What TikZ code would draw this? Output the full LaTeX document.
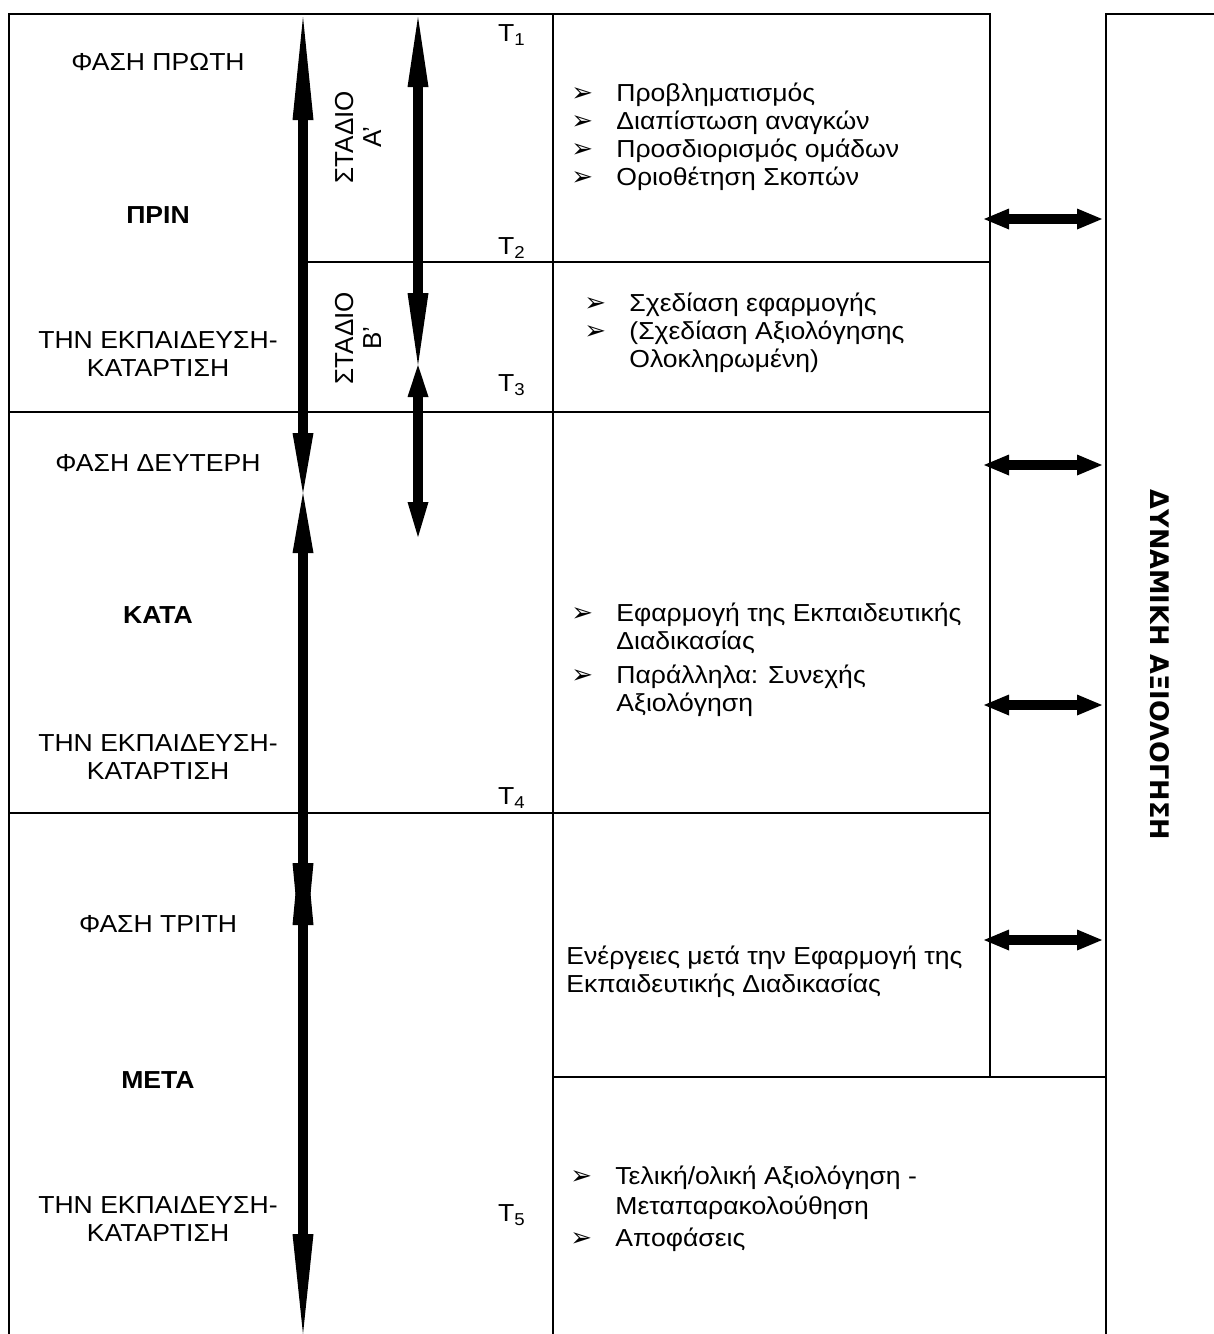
\documentclass[tikz,border=0pt]{standalone}
\usepackage{fontspec}
\setmainfont{Liberation Sans}[FakeStretch=1.08]
\newfontfamily\plainfont{Liberation Sans}
\newfontfamily\symfont{DejaVu Sans}
\usetikzlibrary{arrows.meta,positioning}

\newcommand{\bul}{\makebox[22.5pt][l]{\symfont\fontsize{13}{12}\selectfont ➢}}
\newcommand{\cont}{\hspace*{22.5pt}}

\tikzset{
  frame/.style={line width=1.2pt},
  phase/.style={align=center,inner sep=0pt,font=\fontsize{12.3}{14}\selectfont},
  stage/.style={align=center,inner sep=0pt,rotate=90,font=\plainfont\fontsize{13}{14}\selectfont},
  lst/.style={align=left,anchor=west,inner sep=0pt,font=\fontsize{12.3}{14}\selectfont},
  tlabel/.style={anchor=east,inner sep=0pt,font=\fontsize{12.3}{14}\selectfont},
  shaft/.style={line width=5pt},
  link/.style={line width=5pt,{Triangle[length=12.5pt,width=10.5pt,line width=0pt]}-{Triangle[length=12.5pt,width=10.5pt,line width=0pt]}}
}

\begin{document}
\begin{tikzpicture}[x=0.5pt,y=-0.5pt]
    \useasboundingbox (0,0) rectangle (1214,1334);

    % table lines
    \draw[frame] (9,1334) -- (9,14) -- (990,14) -- (990,1077);
    \draw[frame] (553,14) -- (553,1334);
    \draw[frame] (303,262) -- (990,262);
    \draw[frame] (9,412) -- (990,412);
    \draw[frame] (9,813) -- (990,813);
    \draw[frame] (553,1077) -- (1106,1077);
    \draw[frame] (1106,1334) -- (1106,14) -- (1214,14);

    % phases
    \node[phase] (ph1) at (158,62) {ΦΑΣΗ ΠΡΩΤΗ};
    \node[phase] (prin) at (158,215) {\bfseries ΠΡΙΝ};
    \node[phase] (edu1) at (158,354) {ΤΗΝ ΕΚΠΑΙΔΕΥΣΗ-\\ΚΑΤΑΡΤΙΣΗ};
    \node[phase] (ph2) at (158,463) {ΦΑΣΗ ΔΕΥΤΕΡΗ};
    \node[phase] (kata) at (158,615) {\bfseries ΚΑΤΑ};
    \node[phase] (edu2) at (158,757) {ΤΗΝ ΕΚΠΑΙΔΕΥΣΗ-\\ΚΑΤΑΡΤΙΣΗ};
    \node[phase] (ph3) at (158,924) {ΦΑΣΗ ΤΡΙΤΗ};
    \node[phase] (meta) at (158,1080) {\bfseries ΜΕΤΑ};
    \node[phase] (edu3) at (158,1219) {ΤΗΝ ΕΚΠΑΙΔΕΥΣΗ-\\ΚΑΤΑΡΤΙΣΗ};

    % stages
    \node[stage] (stA) at (358,137) {ΣΤΑΔΙΟ\\Α’};
    \node[stage] (stB) at (358,338) {ΣΤΑΔΙΟ\\Β’};

    % time marks
    \node[tlabel] (t1) at (526,35) {T\textsubscript{1}};
    \node[tlabel] (t2) at (526,248) {T\textsubscript{2}};
    \node[tlabel] (t3) at (526,385) {T\textsubscript{3}};
    \node[tlabel] (t4) at (526,798) {T\textsubscript{4}};
    \node[tlabel] (t5) at (526,1215) {T\textsubscript{5}};

    % actions
    \node[lst] (act1) at (571,137) {\bul Προβληματισμός\\ \bul Διαπίστωση αναγκών\\ \bul Προσδιορισμός ομάδων\\ \bul Οριοθέτηση Σκοπών};
    \node[lst] (act2) at (584,333) {\bul Σχεδίαση εφαρμογής\\ \bul (Σχεδίαση Αξιολόγησης\\ \cont Ολοκληρωμένη)};
    \node[lst] (act3) at (571,660) {\bul Εφαρμογή της Εκπαιδευτικής\\ \cont Διαδικασίας\\[3pt] \bul Παράλληλα: Συνεχής\\ \cont Αξιολόγηση};
    \node[lst] (act4) at (566,972) {Ενέργειες μετά την Εφαρμογή της\\ Εκπαιδευτικής Διαδικασίας};
    \node[lst,font=\fontsize{12.3}{15}\selectfont] (act5) at (570,1209) {\bul Τελική/ολική Αξιολόγηση -\\ \cont Μεταπαρακολούθηση\\[1pt] \bul Αποφάσεις};

    % evaluation
    \node[rotate=-90,inner sep=0pt,font=\symfont\bfseries\fontsize{12.8}{14}\selectfont] (dyn) at (1160,665) {ΔΥΝΑΜΙΚΗ ΑΞΙΟΛΟΓΗΣΗ};

    % time arrows
    \coordinate (a1) at (303,17);
    \coordinate (a2) at (303,493);
    \coordinate (a3) at (303,973);
    \coordinate (a4) at (303,815);
    \coordinate (a5) at (303,1334);
    \draw[shaft,{Triangle[length=51.5pt,width=10.5pt,line width=0pt]}-{Triangle[length=30pt,width=10.5pt,line width=0pt]}] (a1) -- (a2);
    \draw[shaft,{Triangle[length=30pt,width=10.5pt,line width=0pt]}-{Triangle[length=55pt,width=10.5pt,line width=0pt]}] (a2) -- (a3);
    \draw[shaft,{Triangle[length=55pt,width=10.5pt,line width=0pt]}-{Triangle[length=50pt,width=10.5pt,line width=0pt]}] (a4) -- (a5);

    \coordinate (s1) at (418,17);
    \coordinate (s2) at (418,365);
    \coordinate (s3) at (418,537);
    \draw[shaft,{Triangle[length=35pt,width=10.5pt,line width=0pt]}-{Triangle[length=36pt,width=10.5pt,line width=0pt]}] (s1) -- (s2);
    \draw[shaft,{Triangle[length=16pt,width=10.5pt,line width=0pt]}-{Triangle[length=17.5pt,width=10.5pt,line width=0pt]}] (s2) -- (s3);

    % links to evaluation
    \foreach \y [count=\i] in {219,465,705,940} {
        \coordinate (la\i) at (984,\y);
        \coordinate (lb\i) at (1102,\y);
        \draw[link] (la\i) -- (lb\i);
    }
\end{tikzpicture}
\end{document}
